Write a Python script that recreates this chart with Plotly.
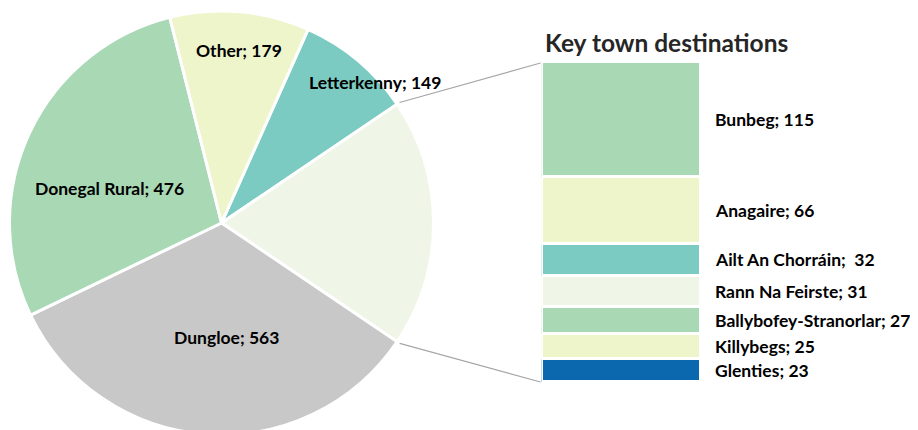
import math
import plotly.graph_objects as go

# ---------------- data ----------------
pie_labels = ["Letterkenny", "Key towns", "Dungloe", "Donegal Rural", "Other"]
pie_values = [149, 319, 563, 476, 179]
pie_colors = ["#7CCBC2", "#EFF5E7", "#C8C8C8", "#A9D8B5", "#EEF5CB"]

town_labels = ["Bunbeg", "Anagaire", "Ailt An Chorráin", "Rann Na Feirste",
               "Ballybofey-Stranorlar", "Killybegs", "Glenties"]
town_values = [115, 66, 32, 31, 27, 25, 23]
town_text = ["Bunbeg; 115", "Anagaire; 66", "Ailt An Chorráin;  32", "Rann Na Feirste; 31",
             "Ballybofey-Stranorlar; 27", "Killybegs; 25", "Glenties; 23"]
town_colors = ["#A9D8B5", "#EEF5CB", "#7CCBC2", "#EFF5E7", "#A9D8B5", "#EEF5CB", "#0B67AE"]

# ---------------- layout constants (page pixels) ----------------
W, H = 918, 440
OFF = 8  # page offset of the figure
FONT = "Lato"
pie_cx, pie_cy, pie_r = 221.5, 223.0, 212.0
rotation = 24.1  # degrees clockwise from 12 o'clock where first slice starts
bar_left, bar_right, bar_top, bar_bottom = 541.5, 700.5, 62.0, 382.0
label_x = 713
pie_label_pos = {  # label centres in page px
    "Other": (238.5, 50), "Letterkenny": (375, 82),
    "Donegal Rural": (109, 188), "Dungloe": (226, 337),
}

def px(x):
    return (x - OFF) / W

def py(y):
    return 1 - (y - OFF) / H

fig = go.Figure()

fig.add_trace(go.Pie(
    labels=pie_labels, values=pie_values, sort=False, direction="clockwise",
    rotation=rotation, marker=dict(colors=pie_colors, line=dict(color="white", width=3)),
    textinfo="none", hoverinfo="label+value", showlegend=False,
    domain=dict(x=[px(pie_cx - pie_r), px(pie_cx + pie_r)],
                y=[py(pie_cy + pie_r), py(pie_cy - pie_r)]),
))

# stacked bar (Glenties at bottom)
for lab, val, col in list(zip(town_labels, town_values, town_colors))[::-1]:
    fig.add_trace(go.Bar(
        x=[0], y=[val], name=lab, marker=dict(color=col, line=dict(color="white", width=3)),
        width=1, xaxis="x", yaxis="y", showlegend=False, hoverinfo="name+y",
    ))

total_towns = sum(town_values)
annotations = []
# bar labels at the centre of each stacked segment
cum = total_towns
for txt, val in zip(town_text, town_values):
    centre = cum - val / 2
    cum -= val
    annotations.append(dict(x=px(label_x), xref="paper", y=centre, yref="y", text=txt,
                            showarrow=False, xanchor="left", yanchor="middle",
                            font=dict(family=FONT, size=17.5, color="black", weight="bold")))

# pie labels
for lab, val in zip(pie_labels, pie_values):
    if lab in pie_label_pos:
        x, y = pie_label_pos[lab]
        annotations.append(dict(x=px(x), y=py(y), xref="paper", yref="paper",
                                text=f"{lab}; {val}", showarrow=False,
                                xanchor="center", yanchor="middle",
                                font=dict(family=FONT, size=17.5, color="black", weight="bold")))

# title
annotations.append(dict(x=px(543), y=py(42), xref="paper", yref="paper",
                        text="Key town destinations", showarrow=False,
                        xanchor="left", yanchor="middle",
                        font=dict(family=FONT, size=24.5, color="#262626", weight="bold")))

# connector lines from key-town slice edges to bar corners
total = sum(pie_values)
start_frac = sum(pie_values[:1]) / total
end_frac = sum(pie_values[:2]) / total
shapes = []
for frac, y_bar in ((start_frac, bar_top + 1), (end_frac, bar_bottom)):
    ang = math.radians(rotation + frac * 360)
    rr = pie_r + 3
    x0 = pie_cx + rr * math.sin(ang)
    y0 = pie_cy - rr * math.cos(ang)
    shapes.append(dict(type="line", xref="paper", yref="paper",
                       x0=px(x0), y0=py(y0), x1=px(bar_left - 1), y1=py(y_bar),
                       line=dict(color="#A6A6A6", width=1.2)))

fig.update_layout(
    width=W, height=H, margin=dict(l=0, r=0, t=0, b=0),
    paper_bgcolor="white", plot_bgcolor="white",
    barmode="stack", bargap=0,
    xaxis=dict(domain=[px(bar_left), px(bar_right)], range=[-0.5, 0.5], visible=False, fixedrange=True),
    yaxis=dict(domain=[py(bar_bottom), py(bar_top)], range=[0, total_towns], visible=False, fixedrange=True),
    annotations=annotations, shapes=shapes,
    font=dict(family=FONT),
)

fig.write_html("out.html")
